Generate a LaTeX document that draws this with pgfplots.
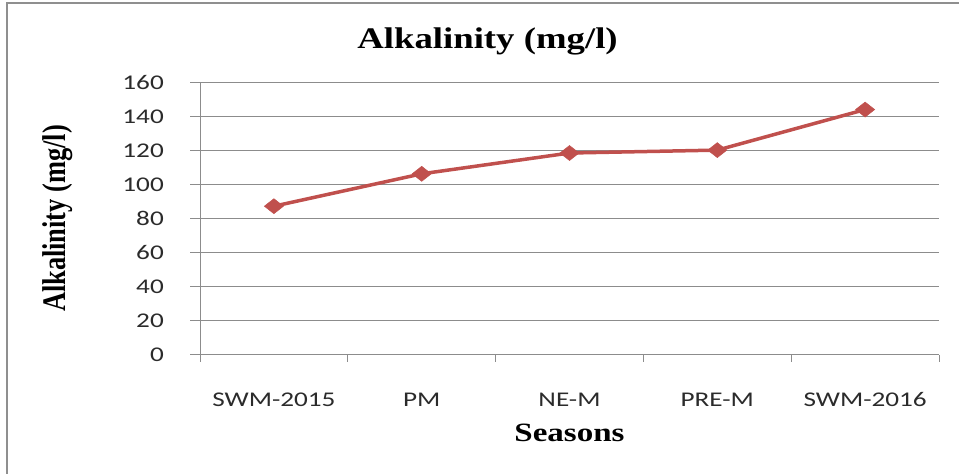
\documentclass[border=0pt]{standalone}
\usepackage{graphicx}
\usepackage{fontspec}
\usepackage{pgfplots}
\pgfplotsset{compat=1.18}
\setmainfont{Liberation Serif}
\newfontfamily\titlefont{Liberation Serif}[FakeStretch=1.23]
\newfontfamily\labfont{Liberation Serif}[FakeStretch=1.25]
\newfontfamily\ylabfont{Liberation Serif}
\newfontfamily\tickfont{Carlito}[FakeStretch=1.3]
\definecolor{linered}{HTML}{C0504D}
\definecolor{gridgray}{HTML}{8C8C8C}
\definecolor{framegray}{HTML}{8F8F8F}
\definecolor{ticktext}{HTML}{2B2B2B}
\begin{document}
\begin{tikzpicture}[x=1bp,y=1bp]
\useasboundingbox (0,0) rectangle (959,474);
\draw[line width=2bp, color=framegray] (7,-5) -- (7,471) -- (965,471);
\begin{axis}[
  at={(200bp,119bp)}, anchor=south west,
  scale only axis, width=739bp, height=272.7bp,
  xmin=-0.5, xmax=4.5, ymin=0, ymax=160,
  axis x line*=bottom, axis y line*=left,
  axis line style={draw=gridgray, line width=1bp},
  xtick={0,1,2,3,4},
  xticklabels={SWM-2015,PM,NE-M,PRE-M,SWM-2016},
  minor xtick={-0.5,0.5,1.5,2.5,3.5,4.5},
  major x tick style={draw=none},
  minor x tick style={draw=gridgray, line width=1bp},
  minor tick length=7bp,
  ytick={0,20,...,160},
  major tick length=10bp,
  tick align=outside,
  y tick style={draw=gridgray, line width=1bp},
  ymajorgrids,
  major grid style={draw=gridgray, line width=1bp},
  /pgf/number format/assume math mode=true,
  tick label style={font=\tickfont\fontsize{21}{25}\selectfont, text=ticktext},
  xticklabel style={anchor=base, inner sep=0pt, yshift=-41.7bp},
  yticklabel style={anchor=east, inner sep=0pt, xshift=-26bp},
  clip=false,
]
\addplot[color=linered, line width=3.5bp, mark=diamond*, mark size=7.5bp,
  mark options={xscale=1.7, solid, fill=linered, draw=linered, line width=0.5bp}]
  coordinates {(0,87.3) (1,106.3) (2,118.5) (3,120.2) (4,144.0)};
\end{axis}
\node[anchor=base] at (487.5,425.7) {\titlefont\bfseries\fontsize{30}{36}\selectfont Alkalinity (mg/l)};
\node[anchor=base] at (569.5,32) {\labfont\bfseries\fontsize{26.5}{30}\selectfont Seasons};
\node[rotate=90] at (58,255.5) {\scalebox{1}[1.25]{\ylabfont\bfseries\fontsize{26.5}{30}\selectfont Alkalinity (mg/l)}};
\end{tikzpicture}
\end{document}
